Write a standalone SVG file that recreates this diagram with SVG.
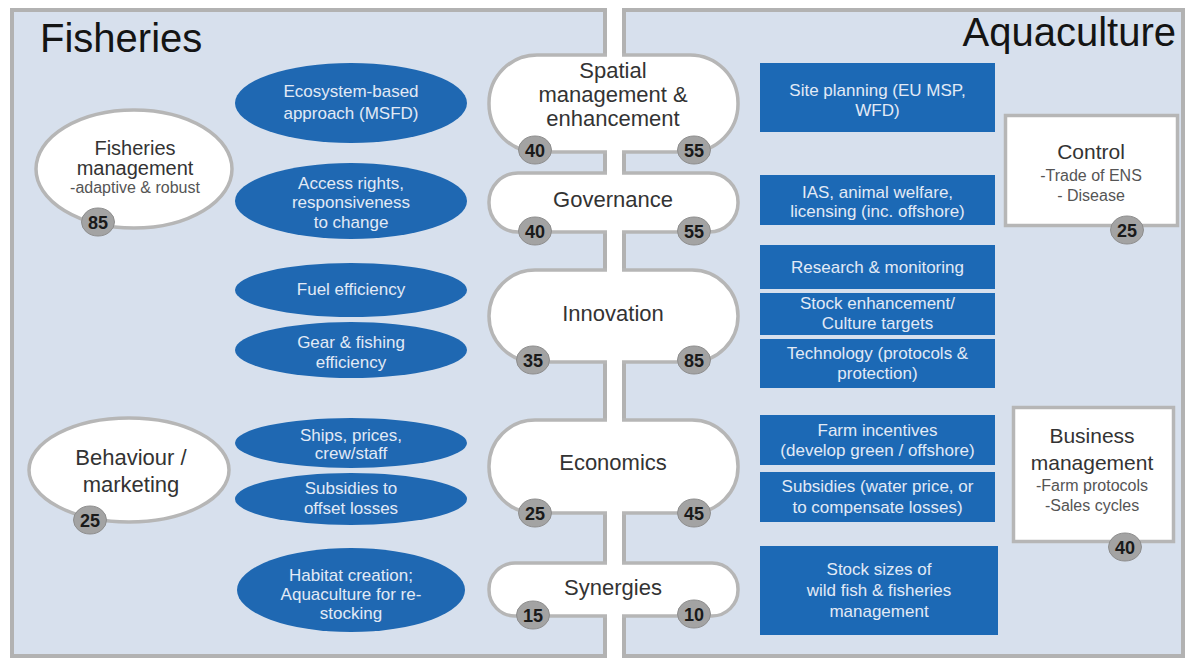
<svg xmlns="http://www.w3.org/2000/svg" width="1190" height="664" viewBox="0 0 1190 664">
<style>
.panel{fill:#d7e0ed;stroke:#b2b2b2;stroke-width:4}
.wnode{fill:#ffffff;stroke:#b6b6b6;stroke-width:3.5}
.blue{fill:#1f68b2}
.box{fill:#1c69b5}
.num{fill:#a3a3a3;stroke:#8e8e8e;stroke-width:1}
text{font-family:"Liberation Sans",Arial,sans-serif}
.title{font-size:40px;fill:#141414}
.pt{font-size:22px;fill:#333333;text-anchor:middle}
.bt{font-size:17px;fill:#e2eaf6;text-anchor:middle}
.nt{font-size:18px;font-weight:bold;fill:#1a1a1a;text-anchor:middle}
.sub{font-size:16px;fill:#555555}
</style>
<rect x="0" y="0" width="1190" height="664" fill="#ffffff"/>
<g id="panel-fisheries">
<rect class="panel" x="12" y="10" width="593" height="646"/>
<text class="title" x="40" y="52">Fisheries</text>
</g>
<g id="panel-aquaculture">
<rect class="panel" x="624" y="10" width="559" height="646"/>
<text class="title" x="1176" y="46" text-anchor="end">Aquaculture</text>
</g>
<g id="connectors"/>

<g id="pill-shapes">
<rect class="wnode" x="489" y="55" width="249" height="97" rx="48" ry="48"/>
<rect class="wnode" x="489" y="173" width="249" height="59" rx="29" ry="29"/>
<rect class="wnode" x="489" y="270" width="249" height="92" rx="46" ry="46"/>
<rect class="wnode" x="489" y="420" width="249" height="93" rx="46" ry="46"/>
<rect class="wnode" x="489" y="563" width="249" height="53" rx="26" ry="26"/>
</g>
<rect id="gap" x="607" y="0" width="15" height="664" fill="#ffffff"/>

<g id="spatial">
<text class="pt"><tspan x="613" y="78">Spatial</tspan><tspan x="613" y="102">management &amp;</tspan><tspan x="613" y="126">enhancement</tspan></text>
<ellipse class="num" cx="535" cy="150" rx="16.5" ry="14"/><text class="nt" x="535" y="156.5">40</text>
<ellipse class="num" cx="694" cy="150" rx="16.5" ry="14"/><text class="nt" x="694" y="156.5">55</text>
</g>
<g id="governance">
<text class="pt" x="613" y="207">Governance</text>
<ellipse class="num" cx="535" cy="231" rx="16.5" ry="14"/><text class="nt" x="535" y="237.5">40</text>
<ellipse class="num" cx="694" cy="231" rx="16.5" ry="14"/><text class="nt" x="694" y="237.5">55</text>
</g>
<g id="innovation">
<text class="pt" x="613" y="321">Innovation</text>
<ellipse class="num" cx="533" cy="360" rx="16.5" ry="14"/><text class="nt" x="533" y="366.5">35</text>
<ellipse class="num" cx="694" cy="360" rx="16.5" ry="14"/><text class="nt" x="694" y="366.5">85</text>
</g>
<g id="economics">
<text class="pt" x="613" y="470">Economics</text>
<ellipse class="num" cx="535" cy="513" rx="16.5" ry="14"/><text class="nt" x="535" y="519.5">25</text>
<ellipse class="num" cx="694" cy="513" rx="16.5" ry="14"/><text class="nt" x="694" y="519.5">45</text>
</g>
<g id="synergies">
<text class="pt" x="613" y="595">Synergies</text>
<ellipse class="num" cx="533" cy="615" rx="16.5" ry="14"/><text class="nt" x="533" y="621.5">15</text>
<ellipse class="num" cx="694" cy="614" rx="16.5" ry="14"/><text class="nt" x="694" y="620.5">10</text>
</g>

<g id="fisheries-management">
<ellipse class="wnode" cx="134" cy="169" rx="98" ry="59" stroke-width="4"/>
<text class="pt" style="font-size:20px"><tspan x="135" y="155">Fisheries</tspan><tspan x="135" y="175">management</tspan><tspan class="sub" x="135" y="193">-adaptive &amp; robust</tspan></text>
<ellipse class="num" cx="98" cy="222" rx="16.5" ry="14"/><text class="nt" x="98" y="228.5">85</text>
</g>
<g id="behaviour-marketing">
<ellipse class="wnode" cx="129" cy="470" rx="100" ry="52" stroke-width="4"/>
<text class="pt"><tspan x="131" y="465">Behaviour /</tspan><tspan x="131" y="492">marketing</tspan></text>
<ellipse class="num" cx="90" cy="520" rx="16.5" ry="14"/><text class="nt" x="90" y="526.5">25</text>
</g>

<g id="ecosystem">
<ellipse class="blue" cx="351" cy="103" rx="116" ry="40"/>
<text class="bt"><tspan x="351" y="97">Ecosystem-based</tspan><tspan x="351" y="119">approach (MSFD)</tspan></text>
</g>
<g id="access-rights">
<ellipse class="blue" cx="351" cy="201" rx="116" ry="38"/>
<text class="bt"><tspan x="351" y="189">Access rights,</tspan><tspan x="351" y="208">responsiveness</tspan><tspan x="351" y="228">to change</tspan></text>
</g>
<g id="fuel-efficiency">
<ellipse class="blue" cx="351" cy="290" rx="116" ry="27"/>
<text class="bt" x="351" y="295">Fuel efficiency</text>
</g>
<g id="gear-efficiency">
<ellipse class="blue" cx="351" cy="350" rx="116" ry="28"/>
<text class="bt"><tspan x="351" y="348">Gear &amp; fishing</tspan><tspan x="351" y="368">efficiency</tspan></text>
</g>
<g id="ships-prices">
<ellipse class="blue" cx="351" cy="443" rx="116" ry="25"/>
<text class="bt"><tspan x="351" y="441">Ships, prices,</tspan><tspan x="351" y="459">crew/staff</tspan></text>
</g>
<g id="subsidies-offset">
<ellipse class="blue" cx="351" cy="499" rx="116" ry="26"/>
<text class="bt"><tspan x="351" y="494">Subsidies to</tspan><tspan x="351" y="514">offset losses</tspan></text>
</g>
<g id="habitat">
<ellipse class="blue" cx="351" cy="590" rx="114" ry="42"/>
<text class="bt"><tspan x="351" y="581">Habitat creation;</tspan><tspan x="351" y="600">Aquaculture for re-</tspan><tspan x="351" y="619">stocking</tspan></text>
</g>

<g id="site-planning">
<rect class="box" x="760" y="63" width="235" height="69"/>
<text class="bt"><tspan x="877.5" y="96">Site planning (EU MSP,</tspan><tspan x="877.5" y="116">WFD)</tspan></text>
</g>
<g id="ias-welfare">
<rect class="box" x="760" y="175" width="235" height="50"/>
<text class="bt"><tspan x="877.5" y="198">IAS, animal welfare,</tspan><tspan x="877.5" y="217">licensing (inc. offshore)</tspan></text>
</g>
<g id="research">
<rect class="box" x="760" y="245" width="235" height="44"/>
<text class="bt" x="877.5" y="273">Research &amp; monitoring</text>
</g>
<g id="stock-enhancement">
<rect class="box" x="760" y="293" width="235" height="42"/>
<text class="bt"><tspan x="877.5" y="309">Stock enhancement/</tspan><tspan x="877.5" y="329">Culture targets</tspan></text>
</g>
<g id="technology">
<rect class="box" x="760" y="339" width="235" height="49"/>
<text class="bt"><tspan x="877.5" y="359">Technology (protocols &amp;</tspan><tspan x="877.5" y="379">protection)</tspan></text>
</g>
<g id="farm-incentives">
<rect class="box" x="760" y="415" width="235" height="50"/>
<text class="bt"><tspan x="877.5" y="436">Farm incentives</tspan><tspan x="877.5" y="456">(develop green / offshore)</tspan></text>
</g>
<g id="subsidies-water">
<rect class="box" x="760" y="472" width="235" height="50"/>
<text class="bt"><tspan x="877.5" y="492">Subsidies (water price, or</tspan><tspan x="877.5" y="513">to compensate losses)</tspan></text>
</g>
<g id="stock-sizes">
<rect class="box" x="760" y="546" width="238" height="89"/>
<text class="bt"><tspan x="879" y="575">Stock sizes of</tspan><tspan x="879" y="596">wild fish &amp; fisheries</tspan><tspan x="879" y="617">management</tspan></text>
</g>

<g id="control">
<rect class="wnode" x="1005.5" y="115.5" width="172" height="110" stroke-width="5"/>
<text class="pt" style="font-size:21px"><tspan x="1091" y="159">Control</tspan><tspan class="sub" x="1091" y="181">-Trade of ENS</tspan><tspan class="sub" x="1091" y="201">- Disease</tspan></text>
<ellipse class="num" cx="1127" cy="230" rx="16.5" ry="14"/><text class="nt" x="1127" y="236.5">25</text>
</g>
<g id="business-management">
<rect class="wnode" x="1013.5" y="407.5" width="160" height="134" stroke-width="5"/>
<text class="pt" style="font-size:21px"><tspan x="1092" y="443">Business</tspan><tspan x="1092" y="470">management</tspan><tspan class="sub" x="1092" y="491">-Farm protocols</tspan><tspan class="sub" x="1092" y="511">-Sales cycles</tspan></text>
<ellipse class="num" cx="1125" cy="547" rx="16.5" ry="14"/><text class="nt" x="1125" y="553.5">40</text>
</g>
</svg>
